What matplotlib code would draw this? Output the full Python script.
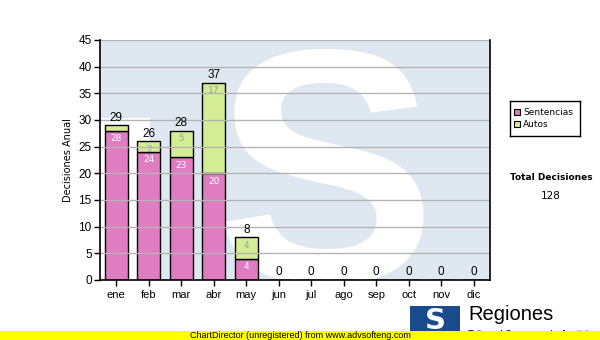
import numpy as np
import matplotlib.pyplot as plt
from matplotlib.patches import Rectangle

months = ["ene", "feb", "mar", "abr", "may", "jun", "jul", "ago", "sep", "oct", "nov", "dic"]
sentencias = [28, 24, 23, 20, 4, 0, 0, 0, 0, 0, 0, 0]
autos = [1, 2, 5, 17, 4, 0, 0, 0, 0, 0, 0, 0]
total_decisiones = 128

col_sent = "#df7cc2"
col_autos = "#d4ec93"

fig = plt.figure(figsize=(6, 3.4), dpi=100)
ax = fig.add_axes([100 / 600, 60 / 340, 390 / 600, 240 / 340])

x = np.arange(len(months))
sent = np.array(sentencias, dtype=float)
aut = np.array(autos, dtype=float)
tot = sent + aut

ax.set_xlim(-0.5, 11.5)
ax.set_ylim(0, 45)
ax.set_facecolor("#dfe8f1")

# watermark logo: white S on light blue
ax.add_patch(Rectangle((-0.5, 0), 1.55, 30.4, facecolor="white", edgecolor="none", zorder=0.3))
ax.text(0.577, -0.01, "S", transform=ax.transAxes, fontsize=240, fontweight="bold",
        color="white", ha="center", va="baseline", zorder=0.4, family="Liberation Sans",
        clip_on=True)

ax.yaxis.grid(True, color="#b4b4b4", linewidth=1, zorder=1)
ax.set_axisbelow(False)

w = 0.7
ax.bar(x, sent, w, color=col_sent, edgecolor="black", linewidth=1, zorder=2)
ax.bar(x, aut, w, bottom=sent, color=col_autos, edgecolor="black", linewidth=1, zorder=2)

for i in range(len(months)):
    ax.text(x[i], tot[i] + 0.3, f"{int(tot[i])}", ha="center", va="bottom",
            fontsize=8.5, family="Liberation Sans", color="black", zorder=3)
    if sent[i] >= 3:
        ax.text(x[i], sent[i] - 0.6, f"{int(sent[i])}", ha="center", va="top",
                fontsize=6.5, color="white", zorder=3)
    if aut[i] >= 2:
        ax.text(x[i], tot[i] - 0.6, f"{int(aut[i])}", ha="center", va="top",
                fontsize=6.5, color="#a0a0a0", zorder=3)

ax.set_xticks(x)
ax.set_xticklabels(months, fontsize=8, family="Liberation Sans")
ax.set_yticks(np.arange(0, 46, 5))
ax.tick_params(axis="y", labelsize=8.5, length=4, width=1, direction="out", pad=2)
ax.tick_params(axis="x", length=4, width=1, direction="out", pad=3)
for lab in ax.get_yticklabels():
    lab.set_family("Liberation Sans")
ax.spines["top"].set_visible(False)
for s in ["left", "bottom", "right"]:
    ax.spines[s].set_linewidth(1.2)
    ax.spines[s].set_zorder(4)
ax.set_ylabel("Decisiones Anual", fontsize=7, family="DejaVu Sans", labelpad=4)

# legend box
lax = fig.add_axes([510 / 600, 1 - 136 / 340, 70 / 600, 35 / 340])
lax.set_xlim(0, 70)
lax.set_ylim(35, 0)
lax.set_xticks([])
lax.set_yticks([])
for s in lax.spines.values():
    s.set_linewidth(1)
lax.add_patch(Rectangle((4, 8), 6, 6, facecolor=col_sent, edgecolor="black", linewidth=0.8))
lax.add_patch(Rectangle((4, 20), 6, 6, facecolor=col_autos, edgecolor="black", linewidth=0.8))
lax.text(13, 11.5, "Sentencias", fontsize=6.5, va="center", ha="left")
lax.text(13, 23.5, "Autos", fontsize=6.5, va="center", ha="left")

fig.text(551 / 600, 1 - 178 / 340, "Total Decisiones", fontsize=6.5, fontweight="bold",
         ha="center", va="center")
fig.text(551 / 600, 1 - 196 / 340, f"{total_decisiones}", fontsize=7.5, ha="center", va="center")

# footer logo
fig.patches.append(Rectangle((410 / 600, 1 - 332 / 340), 50 / 600, 26 / 340, facecolor="#1a4b8c",
                             edgecolor="none", transform=fig.transFigure, figure=fig))
fig.text(435 / 600, 1 - 321 / 340, "S", fontsize=21, fontweight="bold", color="white",
         ha="center", va="center", family="DejaVu Sans")
fig.text(468 / 600, 1 - 315 / 340, "Regiones", fontsize=14.5, ha="left", va="center",
         family="Liberation Sans")
fig.text(468 / 600, 1 - 335 / 340, "Tribunal Supremo de Justicia", fontsize=7, ha="left",
         va="center", family="Liberation Sans")

# unregistered banner
fig.patches.append(Rectangle((0, 0), 1, 9 / 340, facecolor="#ffff00", edgecolor="none",
                             transform=fig.transFigure, figure=fig, zorder=5))
fig.text(0.5, 4.5 / 340, "ChartDirector (unregistered) from www.advsofteng.com", fontsize=6.5,
         ha="center", va="center", family="Liberation Sans", zorder=6)

fig.savefig("out.png", dpi=100)
